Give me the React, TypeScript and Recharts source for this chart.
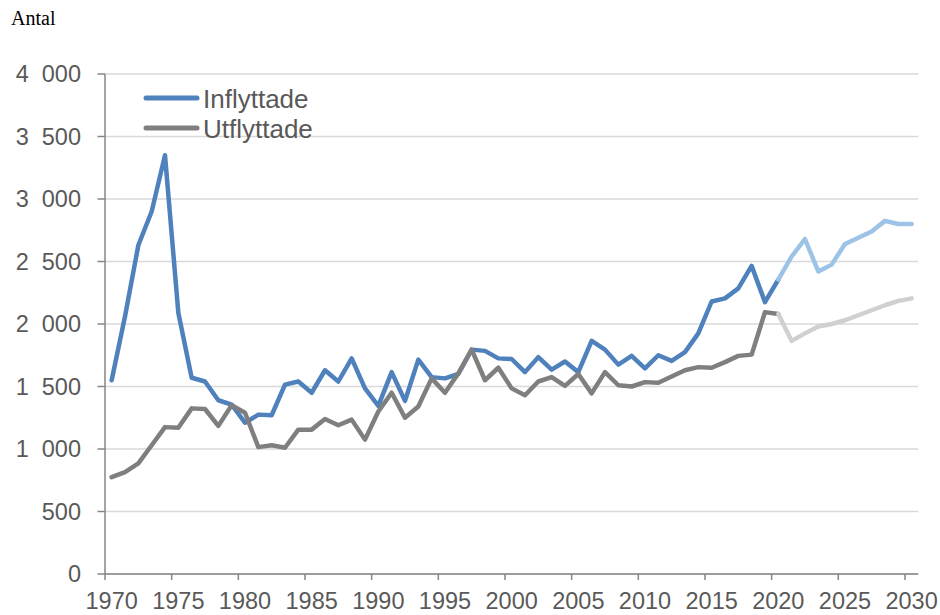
import React from 'react';
import { LineChart, Line, XAxis, YAxis, CartesianGrid, Legend } from 'recharts';

const years = [
  1970, 1971, 1972, 1973, 1974, 1975, 1976, 1977, 1978, 1979,
  1980, 1981, 1982, 1983, 1984, 1985, 1986, 1987, 1988, 1989,
  1990, 1991, 1992, 1993, 1994, 1995, 1996, 1997, 1998, 1999,
  2000, 2001, 2002, 2003, 2004, 2005, 2006, 2007, 2008, 2009,
  2010, 2011, 2012, 2013, 2014, 2015, 2016, 2017, 2018, 2019,
  2020, 2021, 2022, 2023, 2024, 2025, 2026, 2027, 2028, 2029, 2030,
];

// Utfall 1970-2020
const inflyttade = [
  1550, 2060, 2630, 2900, 3350, 2090, 1570, 1540, 1390, 1355,
  1210, 1275, 1270, 1515, 1540, 1450, 1630, 1540, 1725, 1485,
  1345, 1615, 1385, 1715, 1575, 1565, 1600, 1795, 1785, 1725,
  1720, 1615, 1735, 1635, 1700, 1615, 1865, 1795, 1675, 1745,
  1645, 1750, 1705, 1775, 1925, 2180, 2205, 2285, 2465, 2175,
  2355,
];
const utflyttade = [
  775, 815, 885, 1030, 1175, 1170, 1325, 1320, 1185, 1350,
  1290, 1015, 1030, 1010, 1155, 1155, 1240, 1190, 1235, 1075,
  1300, 1450, 1250, 1340, 1565, 1450, 1605, 1795, 1550, 1650,
  1485, 1430, 1540, 1575, 1505, 1600, 1445, 1615, 1510, 1500,
  1535, 1530, 1580, 1630, 1655, 1650, 1695, 1745, 1755, 2095,
  2080,
];
// Prognos 2020-2030
const inflyttadePrognos = [2355, 2540, 2680, 2420, 2475, 2640, 2690, 2740, 2825, 2800, 2800];
const utflyttadePrognos = [2080, 1865, 1925, 1980, 2000, 2030, 2070, 2110, 2150, 2185, 2205];

const xTicks = [1970, 1975, 1980, 1985, 1990, 1995, 2000, 2005, 2010, 2015, 2020, 2025, 2030];
const yTicks = [0, 500, 1000, 1500, 2000, 2500, 3000, 3500, 4000];
const seriesNames = ['Inflyttade', 'Utflyttade'];
const yUnitLabel = 'Antal';

const BLUE = '#4F81BD';
const LIGHT_BLUE = '#9DC3E6';
const GRAY = '#7F7F7F';
const LIGHT_GRAY = '#D0D0D0';
const AXIS = '#868686';
const TEXT = '#595959';
const FONT = '"Liberation Sans", Arial, sans-serif';
const HALF_BAND = 6.67;

const progStart = years.length - inflyttadePrognos.length;
const data = years.map((year, i) => ({
  year,
  inflyttade: i < inflyttade.length ? inflyttade[i] : null,
  utflyttade: i < utflyttade.length ? utflyttade[i] : null,
  inflyttadePrognos: i >= progStart ? inflyttadePrognos[i - progStart] : null,
  utflyttadePrognos: i >= progStart ? utflyttadePrognos[i - progStart] : null,
}));

const formatY = (v: number) => {
  if (v >= 1000) {
    const th = Math.floor(v / 1000);
    const rest = String(v % 1000).padStart(3, '0');
    return `${th}\u2007${rest}`;
  }
  return String(v);
};

const XTick = (props: any) => {
  const { x, y, payload } = props;
  return (
    <g>
      <line x1={x - HALF_BAND} x2={x - HALF_BAND} y1={y} y2={y + 6} stroke={AXIS} strokeWidth={1.5} />
      <text x={x} y={y + 35} textAnchor="middle" fill={TEXT} fontSize={23.5} fontFamily={FONT}>
        {payload.value}
      </text>
    </g>
  );
};

const legendColors = [BLUE, GRAY];
const renderLegend = () => (
  <svg width={220} height={70} style={{ display: 'block' }}>
    {seriesNames.map((name, i) => (
      <g key={name}>
        <line x1={8} x2={59} y1={18 + i * 30} y2={18 + i * 30} stroke={legendColors[i]} strokeWidth={5} strokeLinecap="round" />
        <text x={65} y={27.5 + i * 30} fill={TEXT} fontSize={26} fontFamily={FONT}>{name}</text>
      </g>
    ))}
  </svg>
);

export default function App() {
  return (
    <div style={{ position: 'relative', width: 940, height: 615, background: '#fff' }}>
      <style>{`body{margin:0}`}</style>
      <div
        style={{
          position: 'absolute',
          left: 11,
          top: 6,
          fontFamily: '"Liberation Serif", "Times New Roman", serif',
          fontSize: 20,
          lineHeight: '24px',
          color: '#000',
        }}
      >
        {yUnitLabel}
      </div>
      <LineChart
        width={940}
        height={615}
        data={data}
        margin={{ top: 74, right: 21.7, left: 0, bottom: 0 }}
      >
        <CartesianGrid vertical={false} stroke="#D9D9D9" strokeWidth={1.3} />
        <XAxis
          dataKey="year"
          type="number"
          domain={[1969.5, 2030.5]}
          ticks={xTicks}
          interval={0}
          height={41}
          tickSize={0}
          tickMargin={0}
          tickLine={false}
          axisLine={{ stroke: AXIS, strokeWidth: 1.5 }}
          tick={<XTick />}
        />
        <YAxis
          domain={[0, 4000]}
          ticks={yTicks}
          interval={0}
          width={105}
          tickSize={7.5}
          tickMargin={16.5}
          tickFormatter={formatY}
          tickLine={{ stroke: AXIS, strokeWidth: 1.5 }}
          axisLine={{ stroke: AXIS, strokeWidth: 1.5 }}
          tick={{ fill: TEXT, fontSize: 23.5, fontFamily: FONT }}
        />
        <Legend
          layout="vertical"
          align="center"
          verticalAlign="middle"
          content={renderLegend}
          wrapperStyle={{ position: 'absolute', left: 138, top: 80, width: 220, height: 70 }}
        />
        <Line type="linear" dataKey="inflyttade" stroke={BLUE} strokeWidth={4.5} dot={false} activeDot={false} strokeLinejoin="round" strokeLinecap="round" isAnimationActive={false} />
        <Line type="linear" dataKey="inflyttadePrognos" stroke={LIGHT_BLUE} strokeWidth={4.5} dot={false} activeDot={false} strokeLinejoin="round" strokeLinecap="round" isAnimationActive={false} />
        <Line type="linear" dataKey="utflyttade" stroke={GRAY} strokeWidth={4.5} dot={false} activeDot={false} strokeLinejoin="round" strokeLinecap="round" isAnimationActive={false} />
        <Line type="linear" dataKey="utflyttadePrognos" stroke={LIGHT_GRAY} strokeWidth={4.5} dot={false} activeDot={false} strokeLinejoin="round" strokeLinecap="round" isAnimationActive={false} />
      </LineChart>
    </div>
  );
}
